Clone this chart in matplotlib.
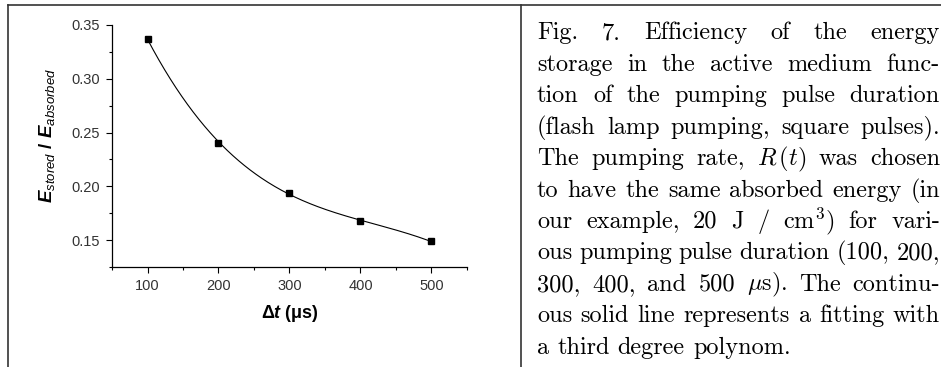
import numpy as np
import matplotlib
matplotlib.use("Agg")
import matplotlib.pyplot as plt
from matplotlib.lines import Line2D
from matplotlib.ticker import MultipleLocator, FormatStrFormatter

plt.rcParams['mathtext.fontset'] = 'custom'
plt.rcParams['mathtext.rm'] = 'Liberation Sans'
plt.rcParams['mathtext.it'] = 'Liberation Sans:italic'
plt.rcParams['mathtext.bf'] = 'Liberation Sans:bold'
plt.rcParams['mathtext.bfit'] = 'Liberation Sans:bold:italic'

# pulse duration (us) and stored / absorbed energy
dt = [100, 200, 300, 400, 500]
eff = [0.337, 0.2405, 0.194, 0.1675, 0.1488]

caption_lines = [
    "Fig. 7. Efficiency of the energy",
    "storage in the active medium func-",
    "tion of the pumping pulse duration",
    "(flash lamp pumping, square pulses).",
    "The pumping rate, $R\\,(t)$ was chosen",
    "to have the same absorbed energy (in",
    "our example, 20 J / cm$^3$) for vari-",
    "ous pumping pulse duration (100, 200,",
    "300, 400, and 500 $\\mu$s). The continu-",
    "ous solid line represents a fitting with",
    "a third degree polynom.",
]

W, H = 941, 367
fig = plt.figure(figsize=(W / 100, H / 100), dpi=100)

# frame lines
line_c = '#333333'
fig.add_artist(Line2D([7.5 / W, 1], [1 - 4.5 / H] * 2, color=line_c, lw=1.2))
fig.add_artist(Line2D([7.5 / W] * 2, [0, 1 - 4.5 / H], color=line_c, lw=1.2))
fig.add_artist(Line2D([520.5 / W] * 2, [0, 1 - 4.5 / H], color=line_c, lw=1.2))

ax = fig.add_axes([112 / W, 1 - 267 / H, 355 / W, 242 / H])

coef = np.polyfit(dt, eff, 3)
xs = np.linspace(dt[0], dt[-1], 300)
ax.plot(xs, np.polyval(coef, xs), color='black', lw=0.8)
ax.plot(dt, eff, 's', color='black', ms=4.5)

ax.set_xlim(50, 550)
ax.set_ylim(0.125, 0.35)
ax.xaxis.set_major_locator(MultipleLocator(100))
ax.xaxis.set_minor_locator(MultipleLocator(50))
ax.yaxis.set_major_locator(MultipleLocator(0.05))
ax.yaxis.set_minor_locator(MultipleLocator(0.025))
ax.yaxis.set_major_formatter(FormatStrFormatter('%.2f'))
ax.set_xticks([100, 200, 300, 400, 500])
for s in ['top', 'right']:
    ax.spines[s].set_visible(False)
for s in ['left', 'bottom']:
    ax.spines[s].set_linewidth(0.9)
ax.tick_params(which='major', direction='out', length=4, width=0.8,
               labelsize=10.5, labelcolor='#333333', pad=5)
ax.tick_params(which='minor', direction='out', length=2.5, width=0.8)
for lab in ax.get_xticklabels() + ax.get_yticklabels():
    lab.set_family('Liberation Sans')

ax.set_xlabel(r'$\mathbf{\Delta}\mathbfit{t}\ \mathbf{(\mu s)}$', fontsize=13, labelpad=7)
fig.text(47 / W, 1 - 135 / H,
         r'$\mathbfit{E}_{\mathit{stored}}\ \mathbf{/}\ \mathbfit{E}_{\mathit{absorbed}}$',
         fontsize=13.5, rotation=90, ha='center', va='center')

# justified caption
renderer = fig.canvas.get_renderer()
x_left, x_right = 537, 940
base0, step = 39.3, 31.45
fs = 17.5
for i, line in enumerate(caption_lines):
    y = 1 - (base0 + i * step) / H
    words = line.split(' ')
    texts = []
    widths = []
    for w in words:
        t = fig.text(0, y, w, family='cmr10', fontsize=fs, va='baseline', ha='left')
        if '$' in w:
            t.set_math_fontfamily('cm')
        texts.append(t)
        widths.append(t.get_window_extent(renderer).width)
    if i == len(caption_lines) - 1:
        gap = 0.333 * fs * 100 / 72
    else:
        gap = (x_right - x_left - sum(widths)) / (len(words) - 1)
    x = x_left
    for t, wd in zip(texts, widths):
        t.set_x(x / W)
        x += wd + gap

fig.savefig('out.png', dpi=100)
